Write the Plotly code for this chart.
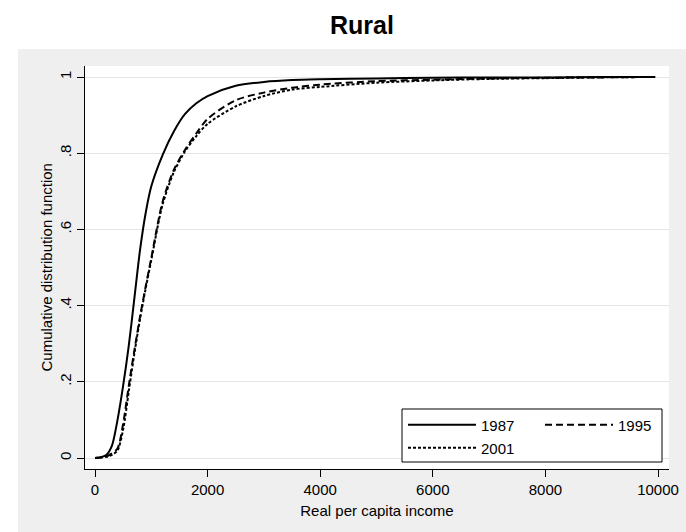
import plotly.graph_objects as go

# ---- data ----
income = [0, 100, 200, 300, 400, 500, 600, 700, 800, 900, 1000, 1200, 1400,
          1600, 1800, 2000, 2500, 3000, 3500, 4000, 5000, 6000, 7000, 8000,
          9000, 9950]
cdf_1987 = [0.0, 0.002, 0.008, 0.032, 0.10, 0.19, 0.295, 0.42, 0.546, 0.643,
            0.713, 0.795, 0.857, 0.903, 0.931, 0.950, 0.977, 0.987, 0.992,
            0.994, 0.996, 0.998, 0.999, 0.999, 1.0, 1.0]
cdf_1995 = [0.0, 0.001, 0.004, 0.012, 0.025, 0.09, 0.19, 0.283, 0.371, 0.45,
            0.525, 0.672, 0.756, 0.809, 0.852, 0.89, 0.939, 0.959, 0.972,
            0.980, 0.989, 0.993, 0.996, 0.998, 0.999, 1.0]
cdf_2001 = [0.0, 0.001, 0.003, 0.008, 0.02, 0.075, 0.175, 0.275, 0.365, 0.445,
            0.52, 0.665, 0.75, 0.805, 0.845, 0.877, 0.923, 0.950, 0.967,
            0.974, 0.985, 0.991, 0.995, 0.997, 0.999, 1.0]
series_names = ["1987", "1995", "2001"]
x_ticks = [0, 2000, 4000, 6000, 8000, 10000]
y_ticks = [0, 0.2, 0.4, 0.6, 0.8, 1.0]
y_ticklabels = ["0", ".2", ".4", ".6", ".8", "1"]

W, H = 686, 532
L, R, T, B = 85, 17, 66, 63
PW, PH = W - L - R, H - T - B

def px_x(p):
    return (p - L) / PW

def px_y(p):
    return (H - B - p) / PH

FONT = "Liberation Sans"

fig = go.Figure()
fig.add_trace(go.Scatter(x=income, y=cdf_1987, name=series_names[0], mode="lines",
                         line=dict(color="black", width=2, shape="spline", smoothing=0.8),
                         legend="legend"))
fig.add_trace(go.Scatter(x=income, y=cdf_1995, name=series_names[1], mode="lines",
                         line=dict(color="black", width=2, dash="7px,4px", shape="spline", smoothing=0.8),
                         legend="legend"))
fig.add_trace(go.Scatter(x=income, y=cdf_2001, name=series_names[2], mode="lines",
                         line=dict(color="black", width=2, dash="3px,2px", shape="spline", smoothing=0.8),
                         legend="legend2"))

shapes = [
    # white area behind the title
    dict(type="rect", xref="paper", yref="paper", x0=px_x(-5), x1=px_x(W + 5),
         y0=px_y(49), y1=px_y(-5), fillcolor="white", line=dict(width=0), layer="below"),
    # white strip on the left
    dict(type="rect", xref="paper", yref="paper", x0=px_x(-5), x1=px_x(18),
         y0=px_y(H + 5), y1=px_y(-5), fillcolor="white", line=dict(width=0), layer="below"),
    # legend box
    dict(type="rect", xref="paper", yref="paper", x0=px_x(402), x1=px_x(662),
         y0=px_y(462), y1=px_y(409), fillcolor="white", line=dict(color="black", width=1),
         layer="above"),
]

fig.update_layout(
    width=W, height=H,
    margin=dict(l=L, r=R, t=T, b=B, autoexpand=False),
    paper_bgcolor="#efefef",
    plot_bgcolor="white",
    font=dict(family=FONT, size=15, color="black"),
    title=dict(text="<b>Rural</b>", x=362 / W, xanchor="center", xref="container",
               y=1 - 25 / H, yanchor="middle", yref="container",
               font=dict(family=FONT, size=25, color="black")),
    shapes=shapes,
    annotations=[
        dict(text="Cumulative distribution function", xref="paper", yref="paper",
             x=px_x(46), y=0.5, xanchor="center", yanchor="middle", textangle=-90,
             showarrow=False, font=dict(family=FONT, size=15, color="black")),
    ],
    legend=dict(orientation="h", x=px_x(403), xanchor="left", y=px_y(425), yanchor="middle",
                bgcolor="rgba(0,0,0,0)", borderwidth=0, itemwidth=68, entrywidth=54,
                font=dict(family=FONT, size=15, color="black"), itemclick=False),
    legend2=dict(orientation="h", x=px_x(403), xanchor="left", y=px_y(448), yanchor="middle",
                 bgcolor="rgba(0,0,0,0)", borderwidth=0, itemwidth=68,
                 font=dict(family=FONT, size=15, color="black"), itemclick=False),
    showlegend=True,
)

fig.update_xaxes(
    range=[(L - 95) / 0.0563, (W - R - 95) / 0.0563],
    tickvals=x_ticks, ticktext=[str(v) for v in x_ticks],
    ticks="outside", ticklen=7, tickcolor="black", tickwidth=1,
    showline=True, linecolor="black", linewidth=1,
    showgrid=False, zeroline=False,
    title=dict(text="Real per capita income", standoff=8, font=dict(size=15)),
    tickfont=dict(size=15),
)
fig.update_yaxes(
    range=[(458 - (H - B)) / 381, (458 - T) / 381],
    tickvals=y_ticks, ticktext=y_ticklabels, tickangle=-90,
    ticks="outside", ticklen=7, tickcolor="black", tickwidth=1,
    showline=True, linecolor="black", linewidth=1,
    showgrid=True, gridcolor="#e4e4e4", gridwidth=1, zeroline=False,
    tickfont=dict(size=15),
)

fig.write_html(
    "out.html",
    config={"displayModeBar": False},
    post_script="document.body.style.margin='0';document.body.style.overflow='hidden';",
)
